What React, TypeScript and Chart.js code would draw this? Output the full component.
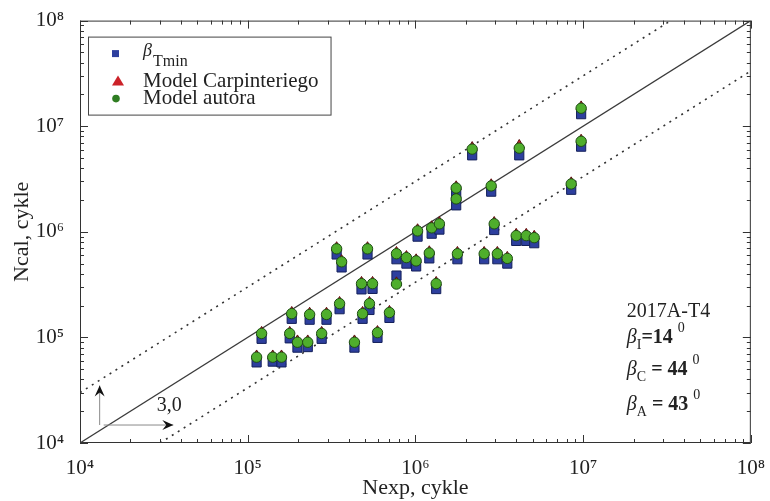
import React, { useEffect, useRef } from 'react';
import { Chart, registerables } from 'chart.js';

Chart.register(...registerables);

// ---- data ----
const nExp = [
  1.13e5, 1.41e5, 1.59e5, 1.21e5, 1.78e5, 1.98e5, 2.28e5, 2.76e5, 4.33e5, 5.94e5,
  1.83e5, 2.34e5, 2.95e5, 3.53e5, 4.84e5, 5.32e5, 7.0e5, 4.77e5, 5.55e5, 7.71e5,
  1.33e6, 3.39e5, 3.63e5, 5.18e5, 7.71e5, 8.84e5, 1.01e6, 1.21e6, 1.78e6, 2.57e6,
  3.08e6, 3.53e6, 1.03e6, 1.25e6, 1.39e6, 2.95e6, 3.99e6, 4.58e6, 5.11e6, 1.75e6,
  1.75e6, 2.83e6, 8.49e6, 2.18e6, 4.16e6, 9.73e6, 9.73e6,
];
const nCalAutor = [
  6.5e4, 6.5e4, 6.5e4, 1.09e5, 1.09e5, 9.0e4, 9.0e4, 1.09e5, 9.0e4, 1.11e5,
  1.68e5, 1.65e5, 1.65e5, 2.09e5, 1.68e5, 2.09e5, 1.72e5, 3.23e5, 3.23e5, 3.2e5,
  3.23e5, 6.9e5, 5.2e5, 6.9e5, 6.2e5, 5.7e5, 5.3e5, 6.3e5, 6.2e5, 6.2e5,
  6.2e5, 5.6e5, 1.02e6, 1.09e6, 1.19e6, 1.19e6, 9.2e5, 9.2e5, 8.8e5, 2.6e6,
  2.05e6, 2.72e6, 2.84e6, 6.07e6, 6.2e6, 7.2e6, 1.48e7,
];
const nCalTmin = [
  5.8e4, 5.9e4, 5.8e4, 9.7e4, 9.8e4, 8.0e4, 8.1e4, 9.7e4, 8.0e4, 9.9e4,
  1.5e5, 1.47e5, 1.47e5, 1.85e5, 1.5e5, 1.82e5, 1.53e5, 2.85e5, 2.88e5, 3.85e5,
  2.87e5, 6.1e5, 4.6e5, 6.1e5, 5.5e5, 5.0e5, 4.7e5, 5.6e5, 5.5e5, 5.5e5,
  5.5e5, 5.0e5, 9.0e5, 9.6e5, 1.05e6, 1.04e6, 8.2e5, 8.2e5, 7.8e5, 2.3e6,
  1.78e6, 2.4e6, 2.5e6, 5.3e6, 5.3e6, 6.4e6, 1.3e7,
];
const nCalCarpinteri = [
  6.7e4, 6.7e4, 6.7e4, 1.12e5, 1.12e5, 9.3e4, 9.3e4, 1.12e5, 9.3e4, 1.14e5,
  1.73e5, 1.7e5, 1.7e5, 2.15e5, 1.73e5, 2.15e5, 1.77e5, 3.33e5, 3.33e5, 3.3e5,
  3.33e5, 7.1e5, 5.35e5, 7.1e5, 6.4e5, 5.85e5, 5.45e5, 6.5e5, 6.4e5, 6.4e5,
  6.4e5, 5.75e5, 1.05e6, 1.12e6, 1.23e6, 1.23e6, 9.5e5, 9.5e5, 9.1e5, 2.68e6,
  2.1e6, 2.8e6, 2.92e6, 6.3e6, 6.6e6, 7.4e6, 1.53e7,
];

const tickValues = [1e4, 1e5, 1e6, 1e7, 1e8];
const tickLabels = ['10⁴', '10⁵', '10⁶', '10⁷', '10⁸'];

const identityX = [1e4, 1e8];
const identityY = [1e4, 1e8];
const upperX = [1e4, 3.333e7];
const upperY = [3e4, 1e8];
const lowerX = [3e4, 1e8];
const lowerY = [1e4, 3.333e7];

const seriesNames = ['β', 'Model Carpinteriego', 'Model autora'];
const seriesSub = 'Tmin';
const xTitle = 'Nexp, cykle';
const yTitle = 'Ncal, cykle';
const infoTitle = '2017A-T4';
const infoSymbols = ['β', 'β', 'β'];
const infoSubs = ['I', 'C', 'A'];
const infoValues = ['=14', ' = 44', ' = 43'];
const infoSup = '0';
const ratioLabel = '3,0';
const arrowOrigin = [1.31e4, 1.48e4];
const arrowTipX = 3.6e4;
const arrowTipY = 3.5e4;

const SERIF = '"Liberation Serif", "Times New Roman", "DejaVu Serif", serif';
const INK = '#222222';
const COL_SQ = '#2d3f9e';
const COL_TRI = '#cc2229';
const COL_CIR = '#4fae2c';

function arrow(ctx: CanvasRenderingContext2D, x1: number, y1: number, x2: number, y2: number) {
  ctx.save();
  ctx.strokeStyle = '#8a8a8a';
  ctx.lineWidth = 1;
  ctx.beginPath();
  ctx.moveTo(x1, y1);
  ctx.lineTo(x2, y2);
  ctx.stroke();
  const a = Math.atan2(y2 - y1, x2 - x1);
  const L = 11, W = 5, N = 7;
  ctx.translate(x2, y2);
  ctx.rotate(a);
  ctx.fillStyle = '#111';
  ctx.beginPath();
  ctx.moveTo(0, 0);
  ctx.lineTo(-L, -W);
  ctx.lineTo(-N, 0);
  ctx.lineTo(-L, W);
  ctx.closePath();
  ctx.fill();
  ctx.restore();
}

const framePlugin = {
  id: 'frameTicks',
  beforeDatasetsDraw(chart: any) {
    const { ctx, chartArea: a, scales } = chart;
    const xs = scales.x, ys = scales.y;
    ctx.save();
    ctx.strokeStyle = '#333';
    ctx.lineWidth = 1;
    ctx.strokeRect(a.left + 0.5, a.top + 0.5, a.right - a.left - 1, a.bottom - a.top - 1);
    ctx.beginPath();
    for (let d = 4; d <= 8; d++) {
      for (let m = 1; m <= 9; m++) {
        const v = m * Math.pow(10, d);
        if (v > 1e8) break;
        const len = m === 1 ? 8 : 4;
        const px = Math.round(xs.getPixelForValue(v)) + 0.5;
        ctx.moveTo(px, a.bottom); ctx.lineTo(px, a.bottom - len);
        ctx.moveTo(px, a.top); ctx.lineTo(px, a.top + len);
        const py = Math.round(ys.getPixelForValue(v)) + 0.5;
        ctx.moveTo(a.left, py); ctx.lineTo(a.left + len, py);
        ctx.moveTo(a.right, py); ctx.lineTo(a.right - len, py);
      }
    }
    ctx.stroke();
    ctx.restore();
  },
  afterDraw(chart: any) {
    const { ctx, chartArea: a, scales } = chart;
    const xs = scales.x, ys = scales.y;
    ctx.save();
    ctx.fillStyle = INK;
    ctx.textBaseline = 'middle';

    // ---- legend box ----
    const bx = a.left + 8, by = a.top + 16;
    const tx = bx + 55;
    ctx.font = `21px ${SERIF}`;
    let maxW = 0;
    seriesNames.forEach((s) => { maxW = Math.max(maxW, ctx.measureText(s).width); });
    const bw = tx - bx + maxW + 12;
    const bh = 78;
    ctx.fillStyle = '#fff';
    ctx.fillRect(bx, by, bw, bh);
    ctx.strokeStyle = '#444';
    ctx.lineWidth = 1;
    ctx.strokeRect(bx + 0.5, by + 0.5, bw, bh);
    const rows = [by + 17, by + 45, by + 62];
    // markers
    ctx.fillStyle = COL_SQ;
    ctx.fillRect(bx + 24, rows[0] - 3.5, 7, 7);
    ctx.fillStyle = COL_TRI;
    ctx.beginPath();
    ctx.moveTo(bx + 30, rows[1] - 6);
    ctx.lineTo(bx + 36, rows[1] + 4);
    ctx.lineTo(bx + 24, rows[1] + 4);
    ctx.closePath();
    ctx.fill();
    ctx.fillStyle = '#2f7d22';
    ctx.beginPath();
    ctx.arc(bx + 28, rows[2], 3.8, 0, Math.PI * 2);
    ctx.fill();
    // texts
    ctx.fillStyle = INK;
    ctx.font = `italic 18px ${SERIF}`;
    ctx.fillText(seriesNames[0], tx, rows[0] - 2);
    const bW = ctx.measureText(seriesNames[0]).width;
    ctx.font = `16px ${SERIF}`;
    ctx.fillText(seriesSub, tx + bW + 1, rows[0] + 8);
    ctx.font = `21px ${SERIF}`;
    ctx.fillText(seriesNames[1], tx, rows[1]);
    ctx.fillText(seriesNames[2], tx, rows[2]);

    // ---- info block ----
    const ix = a.right - 124;
    ctx.font = `20px ${SERIF}`;
    ctx.fillText(infoTitle, ix, a.top + 291);
    const infoY = [a.top + 317, a.top + 349, a.top + 384];
    infoSymbols.forEach((sym, i) => {
      const y = infoY[i];
      let x = ix;
      ctx.font = `italic 20px ${SERIF}`;
      ctx.fillText(sym, x, y);
      x += ctx.measureText(sym).width;
      ctx.font = `14px ${SERIF}`;
      ctx.fillText(infoSubs[i], x, y + 8);
      x += ctx.measureText(infoSubs[i]).width;
      ctx.font = `bold 20px ${SERIF}`;
      ctx.fillText(infoValues[i], x, y);
      x += ctx.measureText(infoValues[i]).width + 5;
      ctx.font = `14px ${SERIF}`;
      ctx.fillText(infoSup, x, y - 9);
    });

    // ---- ratio arrows ----
    const ox = xs.getPixelForValue(arrowOrigin[0]);
    const oy = ys.getPixelForValue(arrowOrigin[1]);
    arrow(ctx, ox, oy, ox, ys.getPixelForValue(arrowTipY));
    const hx = xs.getPixelForValue(arrowTipX);
    arrow(ctx, ox + 4, oy, hx, oy);
    ctx.fillStyle = INK;
    ctx.font = `20px ${SERIF}`;
    ctx.textAlign = 'center';
    ctx.fillText(ratioLabel, hx - 4, oy - 19);
    ctx.restore();
  },
};

function pts(xs: number[], ys: number[]) {
  return xs.map((x, i) => ({ x, y: ys[i] }));
}

export default function App() {
  const ref = useRef<HTMLCanvasElement>(null);
  useEffect(() => {
    if (!ref.current) return;
    const lineDs = (label: string, xs: number[], ys: number[], dash: number[], color: string, w: number) => ({
      label,
      data: pts(xs, ys),
      showLine: true,
      pointRadius: 0,
      borderColor: color,
      borderWidth: w,
      borderDash: dash,
      order: 10,
    });
    const chart = new Chart(ref.current, {
      type: 'scatter',
      data: {
        datasets: [
          {
            label: 'Model autora',
            data: pts(nExp, nCalAutor),
            pointStyle: 'circle',
            pointRadius: 5.2,
            backgroundColor: COL_CIR,
            borderColor: '#1e4d14',
            borderWidth: 1,
            order: 1,
          },
          {
            label: 'Model Carpinteriego',
            data: pts(nExp, nCalCarpinteri),
            pointStyle: 'triangle',
            pointRadius: 5.8,
            backgroundColor: COL_TRI,
            borderColor: '#5a1010',
            borderWidth: 1,
            order: 2,
          },
          {
            label: 'βTmin',
            data: pts(nExp, nCalTmin),
            pointStyle: 'rect',
            pointRadius: 6.5,
            backgroundColor: COL_SQ,
            borderColor: '#14205a',
            borderWidth: 1,
            order: 3,
          },
          lineDs('y = x', identityX, identityY, [], '#3a3a3a', 1.2),
          lineDs('y = 3x', upperX, upperY, [2, 5], '#333', 1.6),
          lineDs('y = x/3', lowerX, lowerY, [2, 5], '#333', 1.6),
        ] as any,
      },
      options: {
        responsive: false,
        animation: false,
        devicePixelRatio: 1,
        layout: { padding: { left: 0, right: 18, top: 19, bottom: 0 } },
        plugins: { legend: { display: false }, tooltip: { enabled: false } },
        scales: {
          x: {
            type: 'logarithmic',
            min: 1e4,
            max: 1e8,
            grid: { display: false },
            border: { display: false },
            afterBuildTicks: (s: any) => { s.ticks = tickValues.map((v) => ({ value: v })); },
            afterFit: (s: any) => { s.height = 58; },
            ticks: {
              autoSkip: false,
              maxRotation: 0,
              padding: 5,
              color: INK,
              font: { family: SERIF, size: 21 },
              callback: (_v: any, i: number) => tickLabels[i],
            },
            title: {
              display: true,
              text: xTitle,
              color: INK,
              font: { family: SERIF, size: 22 },
              padding: { top: 0, bottom: 0 },
            },
          },
          y: {
            type: 'logarithmic',
            min: 1e4,
            max: 1e8,
            grid: { display: false },
            border: { display: false },
            afterBuildTicks: (s: any) => { s.ticks = tickValues.map((v) => ({ value: v })); },
            afterFit: (s: any) => { s.width = 80; },
            ticks: {
              autoSkip: false,
              padding: 8,
              color: INK,
              font: { family: SERIF, size: 21 },
              callback: (_v: any, i: number) => tickLabels[i],
            },
            title: {
              display: true,
              text: yTitle,
              color: INK,
              font: { family: SERIF, size: 22 },
              padding: { top: 9, bottom: 0 },
            },
          },
        },
      } as any,
      plugins: [framePlugin],
    });
    return () => chart.destroy();
  }, []);
  return (
    <div style={{ position: 'absolute', left: 0, top: 0, width: 770, height: 501, background: '#fff' }}>
      <canvas ref={ref} width={770} height={501} style={{ display: 'block' }} />
    </div>
  );
}
